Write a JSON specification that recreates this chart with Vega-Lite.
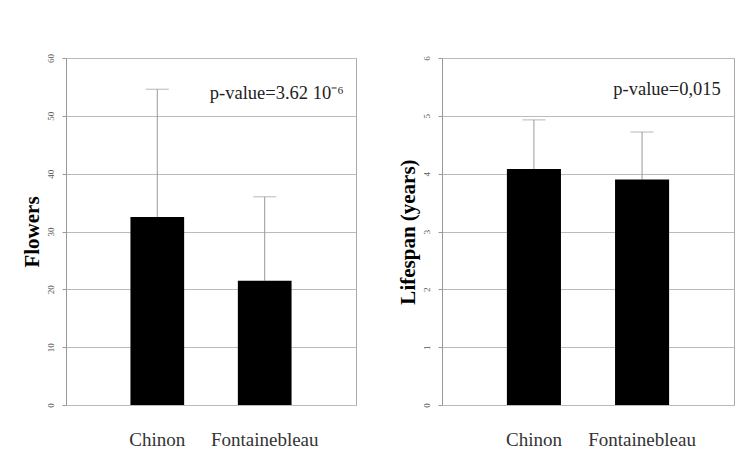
{
  "$schema": "https://vega.github.io/schema/vega-lite/v6.json",
  "background": "white",
  "padding": {"left": 20, "top": 53, "right": 10, "bottom": 5},
  "datasets": {
    "flowers": [
      {"site": "Chinon", "mean": 32.5, "upper": 54.6},
      {"site": "Fontainebleau", "mean": 21.5, "upper": 36.0}
    ],
    "lifespan": [
      {"site": "Chinon", "mean": 4.08, "upper": 4.93},
      {"site": "Fontainebleau", "mean": 3.9, "upper": 4.72}
    ],
    "pflowers": [{"site": "Fontainebleau", "y": 54, "label": "p-value=3.62 10⁻⁶"}],
    "plifespan": [{"site": "Fontainebleau", "y": 5.46, "label": "p-value=0,015"}]
  },
  "spacing": 39,
  "config": {
    "font": "Liberation Serif",
    "view": {"stroke": "#aaaaaa", "strokeWidth": 1},
    "axis": {
      "gridColor": "#bbbbbb",
      "domainColor": "#999999",
      "tickColor": "#999999",
      "labelColor": "#555555",
      "labelFont": "Liberation Serif",
      "titleFont": "Liberation Serif",
      "titleColor": "#000000"
    }
  },
  "hconcat": [
    {
      "width": 290,
      "height": 347,
      "layer": [
        {
          "data": {"name": "flowers"},
          "mark": {"type": "rule", "color": "#999999", "strokeWidth": 1},
          "encoding": {
            "x": {"field": "site", "type": "nominal"},
            "y": {"field": "mean", "type": "quantitative"},
            "y2": {"field": "upper"}
          }
        },
        {
          "data": {"name": "flowers"},
          "mark": {"type": "tick", "color": "#999999", "thickness": 1, "size": 23, "orient": "horizontal"},
          "encoding": {
            "x": {"field": "site", "type": "nominal"},
            "y": {"field": "upper", "type": "quantitative"}
          }
        },
        {
          "data": {"name": "flowers"},
          "mark": {"type": "bar", "color": "black"},
          "encoding": {
            "x": {
              "field": "site", "type": "nominal",
              "scale": {"paddingInner": 0.5, "paddingOuter": 0.6},
              "axis": {"title": null, "labelAngle": 0, "labelAlign": "center", "labelBaseline": "top", "labelFont": "Liberation Serif", "labelFontSize": 19, "labelColor": "#333333", "labelPadding": 25, "ticks": false, "domain": false, "grid": false}
            },
            "y": {
              "field": "mean", "type": "quantitative",
              "scale": {"domain": [0, 60]},
              "axis": {"title": "Flowers", "titleFontSize": 21, "titleFontWeight": "bold", "titlePadding": 4, "values": [0, 10, 20, 30, 40, 50, 60], "format": "d", "labelAngle": -90, "labelAlign": "center", "labelBaseline": "bottom", "labelFontSize": 9, "labelPadding": 7, "tickSize": 4}
            }
          }
        },
        {
          "data": {"name": "pflowers"},
          "mark": {"type": "text", "fontSize": 18.5, "align": "center", "baseline": "middle", "dx": 12, "color": "#222222"},
          "encoding": {
            "x": {"field": "site", "type": "nominal"},
            "y": {"field": "y", "type": "quantitative"},
            "text": {"field": "label"}
          }
        }
      ]
    },
    {
      "width": 292,
      "height": 347,
      "layer": [
        {
          "data": {"name": "lifespan"},
          "mark": {"type": "rule", "color": "#999999", "strokeWidth": 1},
          "encoding": {
            "x": {"field": "site", "type": "nominal"},
            "y": {"field": "mean", "type": "quantitative"},
            "y2": {"field": "upper"}
          }
        },
        {
          "data": {"name": "lifespan"},
          "mark": {"type": "tick", "color": "#999999", "thickness": 1, "size": 23, "orient": "horizontal"},
          "encoding": {
            "x": {"field": "site", "type": "nominal"},
            "y": {"field": "upper", "type": "quantitative"}
          }
        },
        {
          "data": {"name": "lifespan"},
          "mark": {"type": "bar", "color": "black"},
          "encoding": {
            "x": {
              "field": "site", "type": "nominal",
              "scale": {"paddingInner": 0.5, "paddingOuter": 0.6},
              "axis": {"title": null, "labelAngle": 0, "labelAlign": "center", "labelBaseline": "top", "labelFont": "Liberation Serif", "labelFontSize": 19, "labelColor": "#333333", "labelPadding": 25, "ticks": false, "domain": false, "grid": false}
            },
            "y": {
              "field": "mean", "type": "quantitative",
              "scale": {"domain": [0, 6]},
              "axis": {"title": "Lifespan (years)", "titleFontSize": 21, "titleFontWeight": "bold", "titlePadding": 4, "values": [0, 1, 2, 3, 4, 5, 6], "format": "d", "labelAngle": -90, "labelAlign": "center", "labelBaseline": "bottom", "labelFontSize": 9, "labelPadding": 7, "tickSize": 4}
            }
          }
        },
        {
          "data": {"name": "plifespan"},
          "mark": {"type": "text", "fontSize": 18.5, "align": "center", "baseline": "middle", "dx": 25, "color": "#222222"},
          "encoding": {
            "x": {"field": "site", "type": "nominal"},
            "y": {"field": "y", "type": "quantitative"},
            "text": {"field": "label"}
          }
        }
      ]
    }
  ]
}
